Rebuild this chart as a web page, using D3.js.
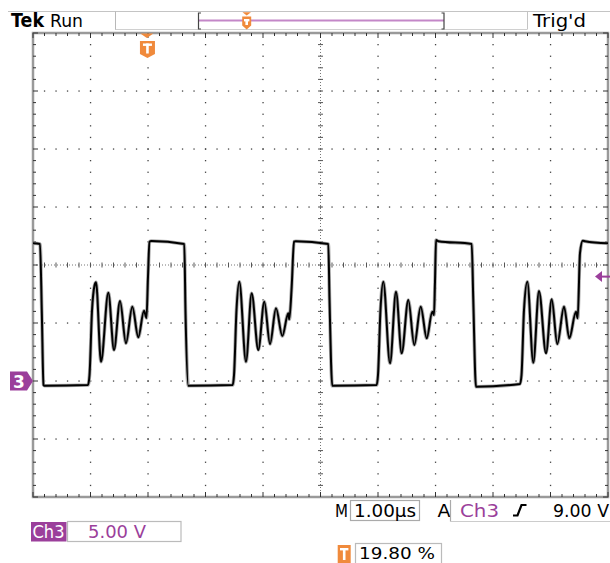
<!DOCTYPE html>
<html><head><meta charset="utf-8">
<script src="https://cdn.jsdelivr.net/npm/d3@7"></script>
<style>body{margin:0;background:#fff}svg{display:block}text{font-family:"DejaVu Sans",sans-serif}</style>
</head><body>
<svg id="c" width="610" height="563"></svg>
<script>
// ---- data (time in µs from left edge, voltage in V) ----
const traceTime = [
  0.000, 0.122, 0.153, 0.183, 0.200, 0.957, 0.983, 1.026, 1.070, 1.096,
  1.183, 1.310, 1.409, 1.513, 1.617, 1.727, 1.831, 1.930, 1.974, 2.000,
  2.026, 2.060, 2.631,
  2.652, 2.701, 3.473, 3.496, 3.539, 3.588, 3.704, 3.803, 3.918, 4.023,
  4.122, 4.226, 4.336, 4.440, 4.457, 4.499, 4.539, 4.570, 5.136,
  5.157, 5.205, 5.977, 6.000, 6.043, 6.092, 6.209, 6.313, 6.412, 6.527,
  6.631, 6.743, 6.847, 6.944, 6.974, 6.991, 7.009, 7.050, 7.630,
  7.657, 7.704, 8.470, 8.496, 8.539, 8.597, 8.701, 8.800, 8.922, 9.021,
  9.118, 9.235, 9.327, 9.443, 9.473, 9.513, 9.560, 9.600, 10.000
];
const traceVolt = [
  11.87, 11.81, 6.00, -0.34, -0.41, -0.34, 0.52, 6.03, 8.23, 8.51,
  1.66, 7.61, 2.67, 6.90, 3.25, 6.41, 3.77, 6.06, 5.43, 9.00,
  12.00, 12.07, 11.81,
  6.00, -0.41, -0.34, 0.52, 6.12, 8.56, 1.66, 7.56, 2.67, 6.84,
  3.19, 6.27, 3.88, 5.84, 5.32, 8.13, 12.01, 12.05, 11.81,
  6.98, -0.41, -0.34, 0.52, 6.12, 8.56, 1.53, 7.70, 2.39, 6.98,
  3.10, 6.41, 3.68, 5.97, 5.69, 8.50, 12.16, 12.05, 11.81,
  6.98, -0.49, -0.26, 0.52, 6.12, 8.56, 1.58, 7.76, 2.39, 7.04,
  3.19, 6.41, 3.68, 5.97, 5.41, 11.03, 12.09, 12.05, 11.87
];
const timeDivs = d3.range(0, 11);          // 1.00 µs / div, 10 divisions
const voltDivs = d3.range(-10, 31, 5);     // 5.00 V / div, 8 divisions
const groundLevel = 0;                     // Ch3 ground marker
const triggerLevel = 9.00;                 // V
const triggerPercent = 19.80;              // % of record
const centerTime = 5, centerVolt = 10;
const labelsTop = ["Tek", "Run", "Trig'd"];
const labelsBottom = ["Ch3", "5.00 V", "M", "1.00\u00b5s", "A", "Ch3", "9.00 V", "19.80 %"];

// ---- layout ----
const svg = d3.select("#c");
const x = d3.scaleLinear().domain([0, 10]).range([33, 608]);
const y = d3.scaleLinear().domain([-10, 30]).range([497, 33]);
const purple = "#9b3f9b", orange = "#f08a3c", frameGray = "#9a9a9a", dotCol = "#444";

// ---- graticule ----
const g = svg.append("g");
const minorT = d3.range(0, 10.001, 0.2);
const minorV = d3.range(-10, 30.001, 1);

timeDivs.filter(t => t > 0 && t < 10 && t !== centerTime).forEach(t => {
  g.selectAll(null).data(minorV.filter(v => v > -10 && v < 30)).enter().append("rect")
    .attr("x", x(t) - 0.6).attr("y", v => y(v) - 0.6).attr("width", 1.3).attr("height", 1.3).attr("fill", dotCol);
});
voltDivs.filter(v => v > -10 && v < 30 && v !== centerVolt).forEach(v => {
  g.selectAll(null).data(minorT.filter(t => t > 0 && t < 10)).enter().append("rect")
    .attr("x", t => x(t) - 0.6).attr("y", y(v) - 0.6).attr("width", 1.3).attr("height", 1.3).attr("fill", dotCol);
});
g.append("line").attr("x1", x(0)).attr("x2", x(10)).attr("y1", y(centerVolt)).attr("y2", y(centerVolt))
  .attr("stroke", "#777").attr("stroke-width", 1).attr("stroke-dasharray", "1,2");
g.append("line").attr("y1", y(-10)).attr("y2", y(30)).attr("x1", x(centerTime)).attr("x2", x(centerTime))
  .attr("stroke", "#777").attr("stroke-width", 1).attr("stroke-dasharray", "1,2");
g.selectAll(null).data(minorT).enter().append("line")
  .attr("x1", t => x(t)).attr("x2", t => x(t)).attr("y1", y(centerVolt) - 2.5).attr("y2", y(centerVolt) + 2.5)
  .attr("stroke", "#555").attr("stroke-width", 1);
g.selectAll(null).data(minorV).enter().append("line")
  .attr("y1", v => y(v)).attr("y2", v => y(v)).attr("x1", x(centerTime) - 2.5).attr("x2", x(centerTime) + 2.5)
  .attr("stroke", "#555").attr("stroke-width", 1);

g.append("rect").attr("x", x(0)).attr("y", y(30)).attr("width", x(10) - x(0)).attr("height", y(-10) - y(30))
  .attr("fill", "none").attr("stroke", frameGray).attr("stroke-width", 2.5);
const isMajorT = t => Math.abs(t - Math.round(t)) < 1e-6;
const isMajorV = v => Math.abs(v / 5 - Math.round(v / 5)) < 1e-6;
g.selectAll(null).data(minorT).enter().append("line")
  .attr("x1", t => x(t)).attr("x2", t => x(t)).attr("y1", y(30)).attr("y2", t => y(30) + (isMajorT(t) ? 5 : 3))
  .attr("stroke", "#333").attr("stroke-width", 1);
g.selectAll(null).data(minorT).enter().append("line")
  .attr("x1", t => x(t)).attr("x2", t => x(t)).attr("y1", y(-10)).attr("y2", t => y(-10) - (isMajorT(t) ? 5 : 3))
  .attr("stroke", "#333").attr("stroke-width", 1);
g.selectAll(null).data(minorV).enter().append("line")
  .attr("y1", v => y(v)).attr("y2", v => y(v)).attr("x1", x(0)).attr("x2", v => x(0) + (isMajorV(v) ? 5 : 3))
  .attr("stroke", "#333").attr("stroke-width", 1);
g.selectAll(null).data(minorV).enter().append("line")
  .attr("y1", v => y(v)).attr("y2", v => y(v)).attr("x1", x(10)).attr("x2", v => x(10) - (isMajorV(v) ? 5 : 3))
  .attr("stroke", "#333").attr("stroke-width", 1);

// ---- trace ----
svg.append("clipPath").attr("id", "clip").append("rect")
  .attr("x", x(0)).attr("y", y(30)).attr("width", x(10) - x(0)).attr("height", y(-10) - y(30));
const pts = traceTime.map((t, i) => [t, traceVolt[i]]);
const line = d3.line().x(d => x(d[0])).y(d => y(d[1])).curve(d3.curveMonotoneX);
svg.append("path").attr("d", line(pts)).attr("clip-path", "url(#clip)")
  .attr("fill", "none").attr("stroke", "#aaa").attr("stroke-width", 3.6).attr("stroke-linejoin", "round");
svg.append("path").attr("d", line(pts)).attr("clip-path", "url(#clip)")
  .attr("fill", "none").attr("stroke", "#000").attr("stroke-width", 2).attr("stroke-linejoin", "round");

// ---- markers ----
const gy = y(groundLevel);
svg.append("path").attr("d", `M10,${gy - 9.5}H27L33,${gy}L27,${gy + 9.5}H10Z`).attr("fill", purple);
svg.append("text").attr("x", 19).attr("y", gy + 6.5).attr("text-anchor", "middle")
  .attr("font-size", 17).attr("font-weight", "bold").attr("fill", "#fff").text("3");
const ty = y(triggerLevel);
svg.append("path").attr("d", `M595,${ty}L602,${ty - 5.5}V${ty + 5.5}Z`).attr("fill", purple);
svg.append("line").attr("x1", 601).attr("x2", 610).attr("y1", ty).attr("y2", ty).attr("stroke", purple).attr("stroke-width", 2);

function tMarker(cx, y0, w, h) {
  svg.append("path").attr("d", `M${cx - w / 2},${y0}H${cx + w / 2}V${y0 + h - 4}L${cx},${y0 + h}L${cx - w / 2},${y0 + h - 4}Z`)
    .attr("fill", orange);
  svg.append("rect").attr("x", cx - w * 0.3).attr("y", y0 + 2.5).attr("width", w * 0.6).attr("height", 2.4).attr("fill", "#fff");
  svg.append("rect").attr("x", cx - 1.3).attr("y", y0 + 2.5).attr("width", 2.6).attr("height", h - 7).attr("fill", "#fff");
}
const tx = x(triggerPercent / 10);
svg.append("path").attr("d", `M${tx - 6.5},${y(30) + 0.5}H${tx + 6.5}L${tx},${y(30) + 5}Z`).attr("fill", orange);
tMarker(tx + 0.6, 41, 15, 17);

// ---- top status bar ----
const topBar = svg.append("g");
topBar.append("line").attr("x1", 8).attr("x2", 610).attr("y1", 11.5).attr("y2", 11.5).attr("stroke", "#c4c4c4");
topBar.append("line").attr("x1", 115).attr("x2", 527).attr("y1", 29.5).attr("y2", 29.5).attr("stroke", "#d0d0d0");
topBar.append("line").attr("x1", 115.5).attr("x2", 115.5).attr("y1", 11.5).attr("y2", 29.5).attr("stroke", "#b8b8b8");
topBar.append("line").attr("x1", 527.5).attr("x2", 527.5).attr("y1", 11.5).attr("y2", 29.5).attr("stroke", "#c4c4c4");
topBar.append("line").attr("x1", 199).attr("x2", 444).attr("y1", 20.5).attr("y2", 20.5).attr("stroke", "#c487c8").attr("stroke-width", 2);
topBar.append("path").attr("d", "M201,13H198.5V29H201").attr("fill", "none").attr("stroke", "#444").attr("stroke-width", 1.2);
topBar.append("path").attr("d", "M441.5,13H444V29H441.5").attr("fill", "none").attr("stroke", "#444").attr("stroke-width", 1.2);
topBar.append("path").attr("d", "M242.5,12.3H251L246.7,15.6Z").attr("fill", orange);
tMarker(246.7, 16.5, 9, 13);

topBar.append("text").attr("x", 11).attr("y", 27).attr("font-family", "DejaVu Serif").attr("font-weight", "bold")
  .attr("font-size", 20).attr("textLength", 33).attr("lengthAdjust", "spacingAndGlyphs").attr("fill", "#000").text(labelsTop[0]);
topBar.append("text").attr("x", 50).attr("y", 27).attr("font-size", 18).attr("textLength", 33)
  .attr("lengthAdjust", "spacingAndGlyphs").attr("fill", "#000").text(labelsTop[1]);
topBar.append("text").attr("x", 533).attr("y", 27).attr("font-size", 18).attr("textLength", 53)
  .attr("lengthAdjust", "spacingAndGlyphs").attr("fill", "#000").text(labelsTop[2]);

// ---- bottom readouts ----
const bot = svg.append("g");
bot.append("rect").attr("x", 31).attr("y", 522).attr("width", 35.5).attr("height", 19.5).attr("fill", purple);
bot.append("text").attr("x", 32.5).attr("y", 538).attr("font-size", 17).attr("textLength", 32)
  .attr("lengthAdjust", "spacingAndGlyphs").attr("fill", "#fff").text(labelsBottom[0]);
bot.append("rect").attr("x", 67.5).attr("y", 521.5).attr("width", 113.5).attr("height", 20)
  .attr("fill", "none").attr("stroke", "#bbb").attr("stroke-width", 1.2);
bot.append("text").attr("x", 88).attr("y", 538).attr("font-size", 17).attr("textLength", 58)
  .attr("lengthAdjust", "spacingAndGlyphs").attr("fill", purple).text(labelsBottom[1]);

bot.append("text").attr("x", 335).attr("y", 516.5).attr("font-size", 17).attr("textLength", 13)
  .attr("lengthAdjust", "spacingAndGlyphs").attr("fill", "#000").text(labelsBottom[2]);
bot.append("rect").attr("x", 350.5).attr("y", 500.5).attr("width", 69).attr("height", 20)
  .attr("fill", "none").attr("stroke", "#aaa").attr("stroke-width", 1.2);
bot.append("text").attr("x", 354).attr("y", 516.5).attr("font-size", 17).attr("textLength", 62)
  .attr("lengthAdjust", "spacingAndGlyphs").attr("fill", "#000").text(labelsBottom[3]);
bot.append("text").attr("x", 437.5).attr("y", 516.5).attr("font-size", 17).attr("textLength", 13)
  .attr("lengthAdjust", "spacingAndGlyphs").attr("fill", "#000").text(labelsBottom[4]);
bot.append("line").attr("x1", 450.5).attr("x2", 450.5).attr("y1", 500).attr("y2", 521.5).attr("stroke", "#aaa").attr("stroke-width", 1.2);
bot.append("line").attr("x1", 450).attr("x2", 610).attr("y1", 521.5).attr("y2", 521.5).attr("stroke", "#ccc").attr("stroke-width", 1);
bot.append("text").attr("x", 460).attr("y", 516.5).attr("font-size", 17).attr("textLength", 39)
  .attr("lengthAdjust", "spacingAndGlyphs").attr("fill", purple).text(labelsBottom[5]);
bot.append("path").attr("d", "M513,515.5H517.5L521.5,505H526.5").attr("fill", "none").attr("stroke", "#000").attr("stroke-width", 2.2);
bot.append("text").attr("x", 553).attr("y", 516.5).attr("font-size", 17).attr("textLength", 56)
  .attr("lengthAdjust", "spacingAndGlyphs").attr("fill", "#000").text(labelsBottom[6]);

bot.append("rect").attr("x", 337.7).attr("y", 545).attr("width", 13).attr("height", 20).attr("fill", orange);
bot.append("rect").attr("x", 340).attr("y", 548).attr("width", 8.4).attr("height", 2.4).attr("fill", "#fff");
bot.append("rect").attr("x", 342.9).attr("y", 548).attr("width", 2.6).attr("height", 12).attr("fill", "#fff");
bot.append("rect").attr("x", 355.5).attr("y", 543.5).attr("width", 86).attr("height", 25)
  .attr("fill", "none").attr("stroke", "#bbb").attr("stroke-width", 1.2);
bot.append("text").attr("x", 359).attr("y", 559).attr("font-size", 16).attr("textLength", 76)
  .attr("lengthAdjust", "spacingAndGlyphs").attr("fill", "#000").text(labelsBottom[7]);
</script>
</body></html>
